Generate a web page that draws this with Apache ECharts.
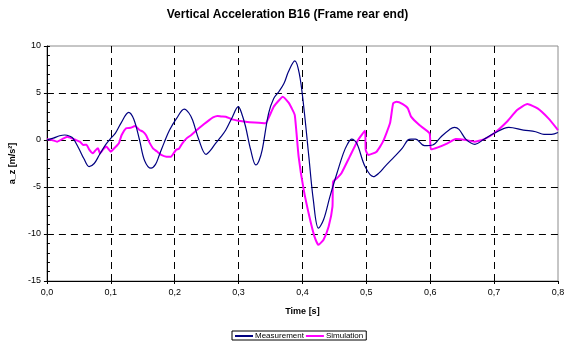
<!DOCTYPE html>
<html>
<head>
<meta charset="utf-8">
<script src="https://cdn.jsdelivr.net/npm/echarts@6/dist/echarts.min.js"></script>
<style>
  html, body { margin: 0; padding: 0; background: #fff; }
  #chart { width: 575px; height: 346px; }
</style>
</head>
<body>
<div id="chart"></div>
<script>
// Measured vertical acceleration at B16, time [s] and a_z [m/s²]
const tMeas = [0.000,0.010,0.020,0.028,0.036,0.041,0.050,0.058,0.066,0.074,0.082,0.092,0.100,0.107,0.116,0.128,0.136,0.145,0.153,0.163,0.170,0.176,0.184,0.192,0.203,0.215,0.222,0.228,0.238,0.249,0.256,0.264,0.272,0.280,0.290,0.2995,0.305,0.311,0.319,0.327,0.332,0.337,0.347,0.355,0.363,0.371,0.378,0.388,0.395,0.402,0.410,0.417,0.425,0.433,0.443,0.454,0.464,0.470,0.477,0.485,0.498,0.511,0.520,0.529,0.544,0.556,0.565,0.570,0.577,0.591,0.604,0.617,0.630,0.638,0.645,0.656,0.670,0.684,0.700,0.723,0.746,0.765,0.778,0.790,0.800];
const aMeas = [0,0.2,0.45,0.53,0.4,0.18,-0.9,-2.0,-2.83,-2.5,-1.6,-0.5,0.18,0.7,1.8,2.94,2.2,0,-2.2,-3.0,-2.6,-1.59,-0.2,1.06,2.3,3.29,2.9,2.12,0,-1.52,-1.1,-0.35,0.3,1.06,2.4,3.54,2.8,1.41,-1.06,-2.65,-2.2,-1.06,2.83,4.42,5.13,6.0,7.25,8.42,7.08,3.54,-1.77,-6.37,-9.38,-8.49,-6.02,-3.54,-1.42,-0.5,0.1,-0.35,-2.83,-3.9,-3.5,-2.83,-1.77,-0.9,0,0.1,0.1,-0.6,-0.53,0.35,1.1,1.35,1.13,0.07,-0.46,0.07,0.71,1.35,1.06,0.88,0.6,0.6,0.8];

// Simulated vertical acceleration at B16
const tSim = [0.000,0.008,0.016,0.024,0.032,0.040,0.045,0.052,0.057,0.062,0.066,0.072,0.076,0.080,0.083,0.088,0.093,0.100,0.105,0.109,0.113,0.117,0.124,0.131,0.138,0.145,0.150,0.155,0.160,0.166,0.172,0.179,0.187,0.194,0.202,0.207,0.212,0.219,0.226,0.232,0.238,0.246,0.254,0.260,0.267,0.273,0.280,0.290,0.300,0.311,0.325,0.342,0.348,0.355,0.363,0.369,0.378,0.383,0.388,0.394,0.402,0.412,0.419,0.425,0.433,0.441,0.447,0.448,0.455,0.461,0.474,0.487,0.498,0.499,0.503,0.516,0.526,0.537,0.542,0.547,0.557,0.565,0.570,0.583,0.599,0.601,0.612,0.627,0.640,0.656,0.669,0.684,0.700,0.720,0.736,0.752,0.768,0.785,0.800];
const aSim = [0.07,0,-0.18,0.1,0.35,0.15,0,-0.2,-0.53,-0.5,-1.0,-1.42,-1.1,-0.88,-1.42,-1.0,-0.7,-1.24,-0.9,-0.64,-0.3,0.53,1.24,1.3,1.49,1.06,0.9,0.53,-0.2,-0.88,-1.2,-1.59,-1.77,-1.77,-1.06,-0.9,-0.35,0.2,0.53,0.9,1.24,1.7,2.12,2.4,2.55,2.5,2.48,2.19,2.05,1.94,1.85,1.77,2.5,3.54,4.2,4.6,4.0,3.4,2.65,-1.77,-5.31,-8.49,-10.3,-11.15,-10.6,-9.2,-7.08,-4.42,-4.0,-3.54,-1.77,0,0.99,-1.06,-1.59,-1.24,-0.18,1.77,3.9,4.07,3.82,3.36,2.48,1.59,0.71,-0.99,-0.78,-0.35,0.1,0,-0.18,0.07,0.71,1.94,3.18,3.82,3.36,2.3,1.06];

// Axis ranges and ticks
const xTicks = { min: 0, max: 0.8, step: 0.1 };
const yTicks = { min: -15, max: 10, step: 5 };

const pairs = (t, a) => t.map((x, i) => [x, a[i]]);
const font = 'Liberation Sans, Arial, sans-serif';
const gridDash = { show: true, showMinLine: false, showMaxLine: false, lineStyle: { color: '#000', type: [7, 5], width: 1 } };

const chart = echarts.init(document.getElementById('chart'), null, { renderer: 'canvas' });
chart.setOption({
  animation: false,
  backgroundColor: '#ffffff',
  title: {
    text: 'Vertical Acceleration B16 (Frame rear end)',
    left: 'center',
    top: 4,
    textStyle: { fontFamily: font, fontSize: 12, fontWeight: 'bold', color: '#000' }
  },
  grid: {
    left: 46, right: 17, top: 46, bottom: 65,
    show: true, borderColor: '#8c8c8c', borderWidth: 1
  },
  legend: {
    left: 232, top: 331,
    orient: 'horizontal',
    borderColor: '#000', borderWidth: 1,
    padding: [1, 3, 0, 3],
    itemGap: 2,
    itemWidth: 18, itemHeight: 2,
    textStyle: { fontFamily: font, fontSize: 8, color: '#000', padding: [0, 0, 0, -3] },
    data: [
      { name: 'Measurement', icon: 'rect' },
      { name: 'Simulation', icon: 'rect' }
    ]
  },
  xAxis: {
    type: 'value',
    min: xTicks.min, max: xTicks.max, interval: xTicks.step,
    name: 'Time [s]',
    nameLocation: 'middle',
    nameGap: 26,
    nameTextStyle: { fontFamily: font, fontSize: 9, fontWeight: 'bold', color: '#000' },
    axisLine: { onZero: false, lineStyle: { color: '#000', width: 1 } },
    axisTick: { show: true, length: 3, inside: false, lineStyle: { color: '#000' } },
    axisLabel: {
      fontFamily: font, fontSize: 9, color: '#000', margin: 7,
      formatter: v => v.toFixed(1).replace('.', ',')
    },
    splitLine: gridDash
  },
  yAxis: [
    {
      type: 'value',
      position: 'left',
      min: yTicks.min, max: yTicks.max, interval: yTicks.step,
      name: 'a_z [m/s²]',
      nameLocation: 'middle',
      nameGap: 28,
      nameRotate: 90,
      nameTextStyle: { fontFamily: font, fontSize: 9, fontWeight: 'bold', color: '#000' },
      axisLine: { show: true, lineStyle: { color: '#000', width: 1 } },
      axisTick: { show: true, length: 3, inside: false, lineStyle: { color: '#000' } },
      axisLabel: { fontFamily: font, fontSize: 9, color: '#000', margin: 6 },
      splitLine: gridDash
    },
    {
      type: 'value',
      position: 'left',
      min: yTicks.min, max: yTicks.max, interval: yTicks.step,
      axisLine: { show: false },
      axisTick: { show: true, length: 3, inside: true, lineStyle: { color: '#000' } },
      minorTick: { show: true, splitNumber: 5, length: 3, lineStyle: { color: '#000' } },
      axisLabel: { show: false },
      splitLine: { show: false }
    }
  ],
  series: [
    {
      name: 'Measurement',
      type: 'line',
      data: pairs(tMeas, aMeas),
      showSymbol: false,
      smooth: 0.35,
      color: '#000080',
      lineStyle: { color: '#000080', width: 1.2 },
      z: 3
    },
    {
      name: 'Simulation',
      type: 'line',
      data: pairs(tSim, aSim),
      showSymbol: false,
      smooth: 0.15,
      color: '#ff00ff',
      lineStyle: { color: '#ff00ff', width: 2 },
      z: 2
    }
  ]
});
</script>
</body>
</html>
